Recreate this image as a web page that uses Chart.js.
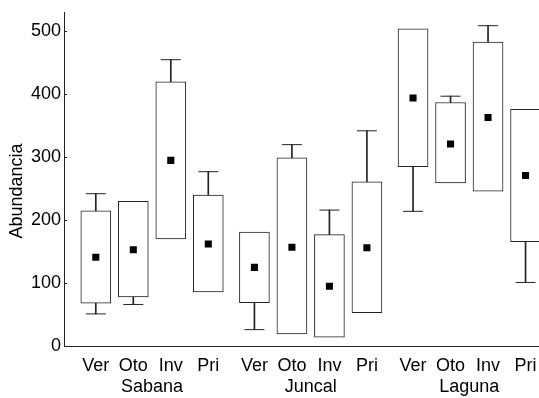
<!DOCTYPE html>
<html>
<head>
<meta charset="utf-8">
<script src="https://cdn.jsdelivr.net/npm/chart.js@4.4.0/dist/chart.umd.min.js"></script>
<style>
  html, body { margin: 0; padding: 0; background: #fff; }
</style>
</head>
<body>
<canvas id="chart" width="539" height="398"></canvas>
<script>
// Values
const sites = ['Sabana', 'Juncal', 'Laguna'];
const seasons = ['Ver', 'Oto', 'Inv', 'Pri'];

// one entry per box: Sabana Ver..Pri, Juncal Ver..Pri, Laguna Ver..Pri
const boxLow      = [68, 78, 170, 86,    69, 19, 14, 53,    285, 259, 246, 166];
const boxHigh     = [215, 230, 420, 240, 181, 299, 177, 261, 504, 387, 483, 376];
const whiskerLow  = [51, 66, null, null, 26, null, null, null, 214, null, null, 101];
const whiskerHigh = [242, null, 455, 277, null, 320, 216, 342, null, 397, 509, null];
const means       = [141, 153, 295, 162, 125, 157, 95, 156, 394, 321, 363, 271];
const yTicks = [0, 100, 200, 300, 400, 500];

const yTitle = 'Abundancia';
const ink = '#222';
const groupStep = 4.23; // spacing between site groups, in box units

// x position of box i
function pos(i) {
  const g = Math.floor(i / seasons.length);
  const s = i % seasons.length;
  return g * groupStep + s;
}

// boxes
const boxData = boxLow.map((lo, i) => ({ x: pos(i), y: [lo, boxHigh[i]] }));

// whisker stems and caps
const stemData = [];
const capData = [];
boxLow.forEach((lo, i) => {
  if (whiskerHigh[i] != null) {
    stemData.push({ x: pos(i), y: [boxHigh[i], whiskerHigh[i]] });
    capData.push({ x: pos(i), y: whiskerHigh[i] });
  }
  if (whiskerLow[i] != null) {
    stemData.push({ x: pos(i), y: [whiskerLow[i], lo] });
    capData.push({ x: pos(i), y: whiskerLow[i] });
  }
});

const meanData = means.map((m, i) => ({ x: pos(i), y: m }));

// x ticks: one per box (season) plus one per site centre (second line)
const xTicks = [];
boxLow.forEach((lo, i) => xTicks.push({ value: pos(i), label: seasons[i % seasons.length] }));
sites.forEach((site, g) => xTicks.push({ value: g * groupStep + (seasons.length - 1) / 2, label: ['', site] }));
xTicks.sort((a, b) => a.value - b.value);

// inward y tick marks + rotated axis title
const extras = {
  id: 'extras',
  afterDraw(chart) {
    const ctx = chart.ctx;
    const y = chart.scales.y;
    const left = chart.chartArea.left;
    ctx.save();
    ctx.strokeStyle = ink;
    ctx.lineWidth = 1;
    yTicks.forEach(v => {
      const py = Math.round(y.getPixelForValue(v)) + 0.5;
      ctx.beginPath();
      ctx.moveTo(left, py);
      ctx.lineTo(left + 3, py);
      ctx.stroke();
    });
    ctx.fillStyle = '#000';
    ctx.font = '18px "Liberation Sans", Arial, sans-serif';
    ctx.textAlign = 'center';
    ctx.textBaseline = 'middle';
    ctx.translate(17, 191);
    ctx.rotate(-Math.PI / 2);
    ctx.fillText(yTitle, 0, 0);
    ctx.restore();
  }
};

const font = { family: '"Liberation Sans", Arial, sans-serif', size: 18, lineHeight: 1.2 };

new Chart(document.getElementById('chart'), {
  type: 'bar',
  data: {
    datasets: [
      {
        type: 'scatter',
        data: meanData,
        pointStyle: 'rect',
        radius: 5,
        backgroundColor: '#000',
        borderWidth: 0,
        order: 0
      },
      {
        type: 'scatter',
        data: capData,
        pointStyle: 'line',
        radius: 10,
        borderColor: ink,
        borderWidth: 1,
        order: 1
      },
      {
        type: 'bar',
        data: boxData,
        barThickness: 30,
        backgroundColor: '#fff',
        borderColor: ink,
        borderWidth: 1,
        borderSkipped: false,
        grouped: false,
        order: 2
      },
      {
        type: 'bar',
        data: stemData,
        barThickness: 1,
        backgroundColor: ink,
        borderWidth: 0,
        grouped: false,
        order: 3
      }
    ]
  },
  options: {
    responsive: false,
    animation: false,
    events: [],
    layout: { autoPadding: false, padding: { top: 12.5, right: 0, left: 0, bottom: 0 } },
    plugins: { legend: { display: false }, tooltip: { enabled: false } },
    scales: {
      x: {
        type: 'linear',
        min: -0.848,
        max: 11.819,
        offset: false,
        grid: { display: false, drawTicks: false },
        border: { display: true, color: ink, width: 1 },
        afterBuildTicks(scale) {
          scale.ticks = xTicks.map(t => ({ value: t.value }));
        },
        afterFit(scale) {
          scale.height = 52;
          scale.paddingLeft = 0;
          scale.paddingRight = 0;
        },
        ticks: {
          autoSkip: false,
          maxRotation: 0,
          minRotation: 0,
          padding: 9,
          color: '#000',
          font: font,
          callback: (v, i) => xTicks[i].label
        }
      },
      y: {
        min: 0,
        max: 530,
        grid: { display: false, drawTicks: false },
        border: { display: true, color: ink, width: 1 },
        afterBuildTicks(scale) {
          scale.ticks = yTicks.map(v => ({ value: v }));
        },
        afterFit(scale) {
          scale.width = 64;
          scale.paddingTop = 0;
          scale.paddingBottom = 0;
        },
        ticks: {
          padding: 3,
          color: '#000',
          font: font
        }
      }
    }
  },
  plugins: [extras]
});
</script>
</body>
</html>
